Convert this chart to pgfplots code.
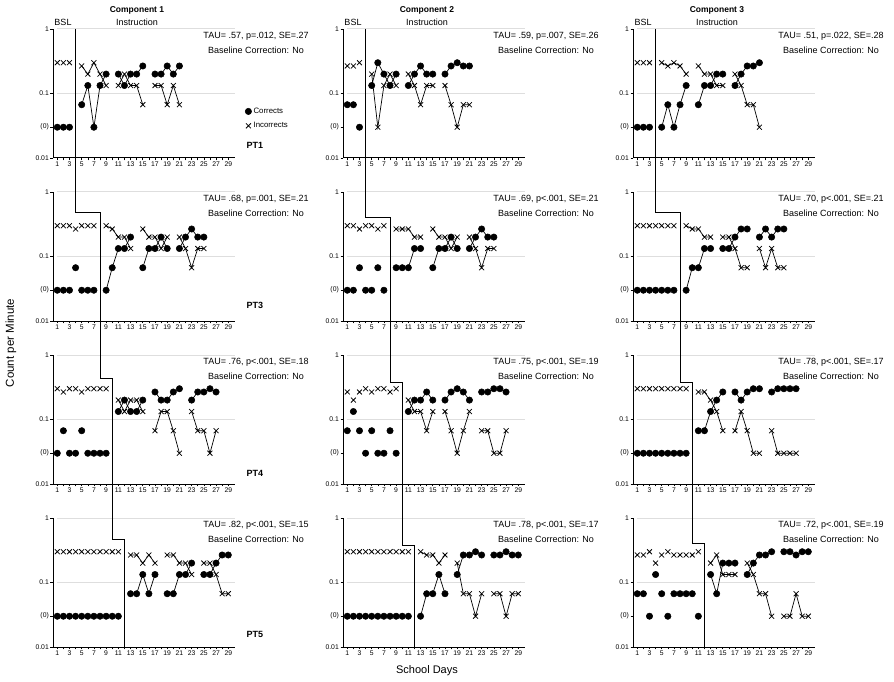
\documentclass[border=0pt]{standalone}
\usepackage{fontspec}
\setmainfont{Liberation Sans}
\usepackage{pgfplots}
\pgfplotsset{compat=1.18}
\pgfplotsset{/pgf/number format/assume math mode=true}
\tikzset{
  cor/.style={black, line width=0.7pt, mark=*, mark size=3.2pt, mark options={solid, fill=black, line width=0.5pt}},
  inc/.style={black, line width=0.7pt, mark=x, mark size=3.5pt, mark options={solid, line width=0.75pt}},
}
\newcommand\fs[1]{\fontsize{#1}{#1}\selectfont}
\newcommand\startpanel[3][]{%
  \begin{axis}[scale only axis, width=182pt, height=129pt,
    anchor=south west, at={(#2pt,#3pt)},
    ymode=log, ymin=0.01, ymax=1, xmin=0.3, xmax=30.1,
    axis lines=left, axis line style={-, line width=1pt, black},
    ytick={0.01,0.03,0.1,1}, yticklabels={0.01,(0),0.1,1},
    ymajorgrids=false, yminorticks=false,
    xtick={1,3,...,29}, minor xtick={2,4,...,28},
    tick align=outside, major tick length=2.5pt, minor tick length=2.5pt,
    tick style={black, line width=0.6pt},
    tick label style={font=\fontsize{6.8}{7}\selectfont, inner sep=1.5pt},
    clip=false, unbounded coords=jump, #1]
  \draw[black!13, line width=1pt] (axis cs:0.9,1) -- (axis cs:30.1,1);
  \draw[black!13, line width=1pt] (axis cs:0.9,0.1) -- (axis cs:30.1,0.1);
}
\begin{document}
\begin{tikzpicture}
\path[use as bounding box] (0,0) rectangle (894pt,681pt);
% ================= ROW 1 =================
\startpanel[legend cell align=left,
  legend style={draw=none, fill=none, at={(rel axis cs:1.055,0.405)}, anchor=north west,
    inner sep=0pt, row sep=3.5pt, font=\fs{7.8}}]{53}{523}
\addplot[cor, only marks] coordinates {(1,.03)(2,.03)(3,.03)}; \addlegendentry{Corrects}
\addplot[inc, only marks] coordinates {(1,.3)(2,.3)(3,.3)}; \addlegendentry{Incorrects}
\addplot[cor, forget plot] coordinates {(5,.067)(6,.133)(7,.03)(8,.133)(9,.2)(10,nan)(11,.2)(12,.133)(13,.2)(14,.2)(15,.267)(16,nan)(17,.2)(18,.2)(19,.267)(20,.2)(21,.267)};
\addplot[inc, forget plot] coordinates {(5,.267)(6,.2)(7,.3)(8,.2)(9,.133)(10,nan)(11,.133)(12,.2)(13,.133)(14,.133)(15,.067)(16,nan)(17,.133)(18,.133)(19,.067)(20,.133)(21,.067)};
\coordinate (t-1) at (axis cs:4,1);
\end{axis}
\startpanel{343}{523}
\addplot[cor, only marks] coordinates {(1,.067)(2,.067)(3,.03)};
\addplot[inc, only marks] coordinates {(1,.267)(2,.267)(3,.3)};
\addplot[cor] coordinates {(5,.133)(6,.3)(7,.2)(8,.133)(9,.2)(10,nan)(11,.133)(12,.2)(13,.267)(14,.2)(15,.2)(16,nan)(17,.2)(18,.267)(19,.3)(20,.267)(21,.267)};
\addplot[inc] coordinates {(5,.2)(6,.03)(7,.133)(8,.2)(9,.133)(10,nan)(11,.2)(12,.133)(13,.067)(14,.133)(15,.133)(16,nan)(17,.133)(18,.067)(19,.03)(20,.067)(21,.067)};
\coordinate (t-2) at (axis cs:4,1);
\end{axis}
\startpanel{633}{523}
\addplot[cor, only marks] coordinates {(1,.03)(2,.03)(3,.03)};
\addplot[inc, only marks] coordinates {(1,.3)(2,.3)(3,.3)};
\addplot[cor] coordinates {(5,.03)(6,.067)(7,.03)(8,.067)(9,.133)(10,nan)(11,.067)(12,.133)(13,.133)(14,.2)(15,.2)(16,nan)(17,.133)(18,.2)(19,.267)(20,.267)(21,.3)};
\addplot[inc] coordinates {(5,.3)(6,.267)(7,.3)(8,.267)(9,.2)(10,nan)(11,.267)(12,.2)(13,.2)(14,.133)(15,.133)(16,nan)(17,.2)(18,.133)(19,.067)(20,.067)(21,.03)};
\coordinate (t-3) at (axis cs:4,1);
\end{axis}
% ================= ROW 2 =================
\startpanel{53}{360}
\addplot[cor, only marks] coordinates {(1,.03)(2,.03)(3,.03)(4,.067)(5,.03)(6,.03)(7,.03)};
\addplot[inc, only marks] coordinates {(1,.3)(2,.3)(3,.3)(4,.267)(5,.3)(6,.3)(7,.3)};
\addplot[cor] coordinates {(9,.03)(10,.067)(11,.133)(12,.133)(13,.2)(14,nan)(15,.067)(16,.133)(17,.133)(18,.2)(19,.133)(20,nan)(21,.133)(22,.2)(23,.267)(24,.2)(25,.2)};
\addplot[inc] coordinates {(9,.3)(10,.267)(11,.2)(12,.2)(13,.133)(14,nan)(15,.267)(16,.2)(17,.2)(18,.133)(19,.2)(20,nan)(21,.2)(22,.133)(23,.067)(24,.133)(25,.133)};
\coordinate (a-2-1) at (axis cs:4,0.475);
\coordinate (b-2-1) at (axis cs:8,0.475);
\end{axis}
\startpanel{343}{360}
\addplot[cor, only marks] coordinates {(1,.03)(2,.03)(3,.067)(4,.03)(5,.03)(6,.067)(7,.03)};
\addplot[inc, only marks] coordinates {(1,.3)(2,.3)(3,.267)(4,.3)(5,.3)(6,.267)(7,.3)};
\addplot[cor] coordinates {(9,.067)(10,.067)(11,.067)(12,.133)(13,.133)(14,nan)(15,.067)(16,.133)(17,.133)(18,.2)(19,.133)(20,nan)(21,.133)(22,.2)(23,.267)(24,.2)(25,.2)};
\addplot[inc] coordinates {(9,.267)(10,.267)(11,.267)(12,.2)(13,.2)(14,nan)(15,.267)(16,.2)(17,.2)(18,.133)(19,.2)(20,nan)(21,.2)(22,.133)(23,.067)(24,.133)(25,.133)};
\coordinate (a-2-2) at (axis cs:4,0.41);
\coordinate (b-2-2) at (axis cs:8,0.41);
\end{axis}
\startpanel{633}{360}
\addplot[cor, only marks] coordinates {(1,.03)(2,.03)(3,.03)(4,.03)(5,.03)(6,.03)(7,.03)};
\addplot[inc, only marks] coordinates {(1,.3)(2,.3)(3,.3)(4,.3)(5,.3)(6,.3)(7,.3)};
\addplot[cor] coordinates {(9,.03)(10,.067)(11,.067)(12,.133)(13,.133)(14,nan)(15,.133)(16,.133)(17,.2)(18,.267)(19,.267)(20,nan)(21,.2)(22,.267)(23,.2)(24,.267)(25,.267)};
\addplot[inc] coordinates {(9,.3)(10,.267)(11,.267)(12,.2)(13,.2)(14,nan)(15,.2)(16,.2)(17,.133)(18,.067)(19,.067)(20,nan)(21,.133)(22,.067)(23,.133)(24,.067)(25,.067)};
\coordinate (a-2-3) at (axis cs:4,0.475);
\coordinate (b-2-3) at (axis cs:8,0.475);
\end{axis}
% ================= ROW 3 =================
\startpanel{53}{197}
\addplot[cor, only marks] coordinates {(1,.03)(2,.067)(3,.03)(4,.03)(5,.067)(6,.03)(7,.03)(8,.03)(9,.03)};
\addplot[inc, only marks] coordinates {(1,.3)(2,.267)(3,.3)(4,.3)(5,.267)(6,.3)(7,.3)(8,.3)(9,.3)};
\addplot[cor] coordinates {(11,.133)(12,.2)(13,.133)(14,.133)(15,.2)(16,nan)(17,.267)(18,.2)(19,.2)(20,.267)(21,.3)(22,nan)(23,.2)(24,.267)(25,.267)(26,.3)(27,.267)};
\addplot[inc] coordinates {(11,.2)(12,.133)(13,.2)(14,.2)(15,.133)(16,nan)(17,.067)(18,.133)(19,.133)(20,.067)(21,.03)(22,nan)(23,.133)(24,.067)(25,.067)(26,.03)(27,.067)};
\coordinate (a-3-1) at (axis cs:8,0.44);
\coordinate (b-3-1) at (axis cs:10,0.44);
\end{axis}
\startpanel{343}{197}
\addplot[cor, only marks] coordinates {(1,.067)(2,.133)(3,.067)(4,.03)(5,.067)(6,.03)(7,.03)(8,.067)(9,.03)};
\addplot[inc, only marks] coordinates {(1,.267)(2,.2)(3,.267)(4,.3)(5,.267)(6,.3)(7,.3)(8,.267)(9,.3)};
\addplot[cor] coordinates {(11,.133)(12,.2)(13,.2)(14,.267)(15,.2)(16,nan)(17,.2)(18,.267)(19,.3)(20,.267)(21,.2)(22,nan)(23,.267)(24,.267)(25,.3)(26,.3)(27,.267)};
\addplot[inc] coordinates {(11,.2)(12,.133)(13,.133)(14,.067)(15,.133)(16,nan)(17,.133)(18,.067)(19,.03)(20,.067)(21,.133)(22,nan)(23,.067)(24,.067)(25,.03)(26,.03)(27,.067)};
\coordinate (a-3-2) at (axis cs:8,0.37);
\coordinate (b-3-2) at (axis cs:10,0.37);
\end{axis}
\startpanel{633}{197}
\addplot[cor, only marks] coordinates {(1,.03)(2,.03)(3,.03)(4,.03)(5,.03)(6,.03)(7,.03)(8,.03)(9,.03)};
\addplot[inc, only marks] coordinates {(1,.3)(2,.3)(3,.3)(4,.3)(5,.3)(6,.3)(7,.3)(8,.3)(9,.3)};
\addplot[cor] coordinates {(11,.067)(12,.067)(13,.133)(14,.2)(15,.267)(16,nan)(17,.267)(18,.2)(19,.267)(20,.3)(21,.3)(22,nan)(23,.267)(24,.3)(25,.3)(26,.3)(27,.3)};
\addplot[inc] coordinates {(11,.267)(12,.267)(13,.2)(14,.133)(15,.067)(16,nan)(17,.067)(18,.133)(19,.067)(20,.03)(21,.03)(22,nan)(23,.067)(24,.03)(25,.03)(26,.03)(27,.03)};
\coordinate (a-3-3) at (axis cs:8,0.38);
\coordinate (b-3-3) at (axis cs:10,0.38);
\end{axis}
% ================= ROW 4 =================
\startpanel{53}{34}
\addplot[cor, only marks] coordinates {(1,.03)(2,.03)(3,.03)(4,.03)(5,.03)(6,.03)(7,.03)(8,.03)(9,.03)(10,.03)(11,.03)};
\addplot[inc, only marks] coordinates {(1,.3)(2,.3)(3,.3)(4,.3)(5,.3)(6,.3)(7,.3)(8,.3)(9,.3)(10,.3)(11,.3)};
\addplot[cor] coordinates {(13,.067)(14,.067)(15,.133)(16,.067)(17,.133)(18,nan)(19,.067)(20,.067)(21,.133)(22,.133)(23,.2)(24,nan)(25,.133)(26,.133)(27,.2)(28,.267)(29,.267)};
\addplot[inc] coordinates {(13,.267)(14,.267)(15,.2)(16,.267)(17,.2)(18,nan)(19,.267)(20,.267)(21,.2)(22,.2)(23,.133)(24,nan)(25,.2)(26,.2)(27,.133)(28,.067)(29,.067)};
\coordinate (a-4-1) at (axis cs:10,0.46);
\coordinate (b-4-1) at (axis cs:12,0.46);
\coordinate (e-1) at (axis cs:12,0.01);
\end{axis}
\startpanel{343}{34}
\addplot[cor, only marks] coordinates {(1,.03)(2,.03)(3,.03)(4,.03)(5,.03)(6,.03)(7,.03)(8,.03)(9,.03)(10,.03)(11,.03)};
\addplot[inc, only marks] coordinates {(1,.3)(2,.3)(3,.3)(4,.3)(5,.3)(6,.3)(7,.3)(8,.3)(9,.3)(10,.3)(11,.3)};
\addplot[cor] coordinates {(13,.03)(14,.067)(15,.067)(16,.133)(17,.067)(18,nan)(19,.133)(20,.267)(21,.267)(22,.3)(23,.267)(24,nan)(25,.267)(26,.267)(27,.3)(28,.267)(29,.267)};
\addplot[inc] coordinates {(13,.3)(14,.267)(15,.267)(16,.2)(17,.267)(18,nan)(19,.2)(20,.067)(21,.067)(22,.03)(23,.067)(24,nan)(25,.067)(26,.067)(27,.03)(28,.067)(29,.067)};
\coordinate (a-4-2) at (axis cs:10,0.38);
\coordinate (b-4-2) at (axis cs:12,0.38);
\coordinate (e-2) at (axis cs:12,0.01);
\end{axis}
\startpanel{633}{34}
\addplot[cor, only marks] coordinates {(1,.067)(2,.067)(3,.03)(4,.133)(5,.067)(6,.03)(7,.067)(8,.067)(9,.067)(10,.067)(11,.03)};
\addplot[inc, only marks] coordinates {(1,.267)(2,.267)(3,.3)(4,.2)(5,.267)(6,.3)(7,.267)(8,.267)(9,.267)(10,.267)(11,.3)};
\addplot[cor] coordinates {(13,.133)(14,.067)(15,.2)(16,.2)(17,.2)(18,nan)(19,.133)(20,.2)(21,.267)(22,.267)(23,.3)(24,nan)(25,.3)(26,.3)(27,.267)(28,.3)(29,.3)};
\addplot[inc] coordinates {(13,.2)(14,.267)(15,.133)(16,.133)(17,.133)(18,nan)(19,.2)(20,.133)(21,.067)(22,.067)(23,.03)(24,nan)(25,.03)(26,.03)(27,.067)(28,.03)(29,.03)};
\coordinate (a-4-3) at (axis cs:10,0.41);
\coordinate (b-4-3) at (axis cs:12,0.41);
\coordinate (e-3) at (axis cs:12,0.01);
\end{axis}
% ================= phase change lines =================
\foreach \c in {1,2,3}{
  \draw[black, line width=0.9pt] (t-\c) -- (a-2-\c) -- (b-2-\c) -- (a-3-\c) -- (b-3-\c) -- (a-4-\c) -- (b-4-\c) -- (e-\c);
}
% ================= texts =================
\node[font=\fs{8.5}\bfseries] at (137pt,671pt) {Component 1};
\node[font=\fs{8.5}\bfseries] at (427pt,671pt) {Component 2};
\node[font=\fs{8.5}\bfseries] at (717pt,671pt) {Component 3};
\node[font=\fs{9}] at (63pt,659pt) {BSL};
\node[font=\fs{9}] at (353pt,659pt) {BSL};
\node[font=\fs{9}] at (643pt,659pt) {BSL};
\node[font=\fs{9}] at (137pt,659pt) {Instruction};
\node[font=\fs{9}] at (427pt,659pt) {Instruction};
\node[font=\fs{9}] at (717pt,659pt) {Instruction};
\node[font=\fs{9}] at (256pt,645pt) {TAU= .57, p=.012, SE=.27};
\node[font=\fs{9}] at (546pt,645pt) {TAU= .59, p=.007, SE=.26};
\node[font=\fs{9}] at (831pt,645pt) {TAU= .51, p=.022, SE=.28};
\node[font=\fs{9}] at (256pt,482pt) {TAU= .68, p=.001, SE=.21};
\node[font=\fs{9}] at (546pt,482pt) {TAU= .69, p<.001, SE=.21};
\node[font=\fs{9}] at (831pt,482pt) {TAU= .70, p<.001, SE=.21};
\node[font=\fs{9}] at (256pt,319pt) {TAU= .76, p<.001, SE=.18};
\node[font=\fs{9}] at (546pt,319pt) {TAU= .75, p<.001, SE=.19};
\node[font=\fs{9}] at (831pt,319pt) {TAU= .78, p<.001, SE=.17};
\node[font=\fs{9}] at (256pt,156pt) {TAU= .82, p<.001, SE=.15};
\node[font=\fs{9}] at (546pt,156pt) {TAU= .78, p<.001, SE=.17};
\node[font=\fs{9}] at (831pt,156pt) {TAU= .72, p<.001, SE=.19};
\foreach \y in {631,468,305,142}{
  \node[font=\fs{9}] at (256pt,\y pt) {Baseline Correction: No};
  \node[font=\fs{9}] at (546pt,\y pt) {Baseline Correction: No};
  \node[font=\fs{9}] at (831pt,\y pt) {Baseline Correction: No};
}
\node[font=\fs{9}\bfseries, anchor=west] at (243pt,536pt) {PT1};
\node[font=\fs{9}\bfseries, anchor=west] at (243pt,376pt) {PT3};
\node[font=\fs{9}\bfseries, anchor=west] at (243pt,208pt) {PT4};
\node[font=\fs{9}\bfseries, anchor=west] at (243pt,47pt) {PT5};
\node[font=\fs{11.5}, rotate=90] at (11pt,338pt) {Count per Minute};
\node[font=\fs{11}] at (427pt,10.5pt) {School Days};
\end{tikzpicture}
\end{document}
